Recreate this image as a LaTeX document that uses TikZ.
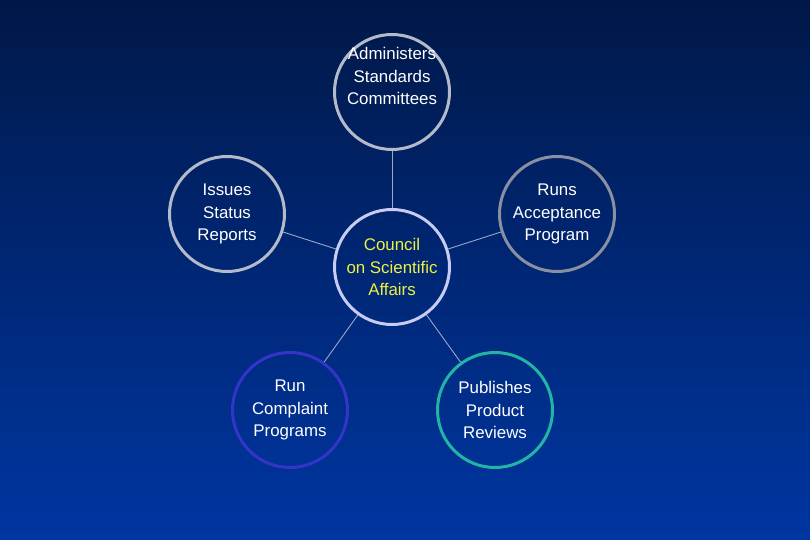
\documentclass[tikz,border=0pt]{standalone}
\usepackage{fontspec}
\setmainfont{Liberation Sans}
\definecolor{bgtop}{HTML}{001848}
\definecolor{bgbot}{HTML}{0036A2}
\definecolor{ringgray}{HTML}{B4BACA}
\definecolor{ringdark}{HTML}{8A90A2}
\definecolor{ringlav}{HTML}{C8CCF2}
\definecolor{ringblue}{HTML}{3434C8}
\definecolor{ringteal}{HTML}{22B4A4}
\definecolor{linkgray}{HTML}{A0A8C4}
\definecolor{council}{HTML}{F0F040}

\begin{document}
\begin{tikzpicture}[x = 0.02cm, y = -0.02cm]
        \tikzstyle{bubble} = [shape = circle, minimum size = 2.3cm, inner sep = 0pt, line width = 1.7pt, text = white, align = center, font = \fontsize{9.6}{13}\selectfont]
        \tikzstyle{words} = [text = white, align = center, font = \fontsize{9.6}{13}\selectfont]
        \tikzstyle{link} = [draw = linkgray, line width = 0.5pt]
        \shade[top color = bgtop, bottom color = bgbot] (0, 0) rectangle (810, 540);
        \node[bubble] (C-0) at (392, 267) [draw = ringlav, text = council] {Council\\on Scientific\\Affairs};
        \node[bubble] (C-1) at (392, 92) [draw = ringgray] {};
        \node[words] (T-1) at (392, 76) {Administers\\Standards\\Committees};
        \node[bubble] (C-2) at (227, 214) [draw = ringgray] {Issues\\Status\\Reports};
        \node[bubble] (C-3) at (557, 214) [draw = ringdark] {Runs\\Acceptance\\Program};
        \node[bubble] (C-4) at (290, 410) [draw = ringblue] {Run\\Complaint\\Programs};
        \node[bubble] (C-5) at (495, 410) [draw = ringteal] {Publishes\\Product\\Reviews};
        \draw[link] (C-1) -- (C-0);
        \draw[link] (C-2) -- (C-0);
        \draw[link] (C-3) -- (C-0);
        \draw[link] (C-4) -- (C-0);
        \draw[link] (C-5) -- (C-0);
      \end{tikzpicture}
\end{document}
